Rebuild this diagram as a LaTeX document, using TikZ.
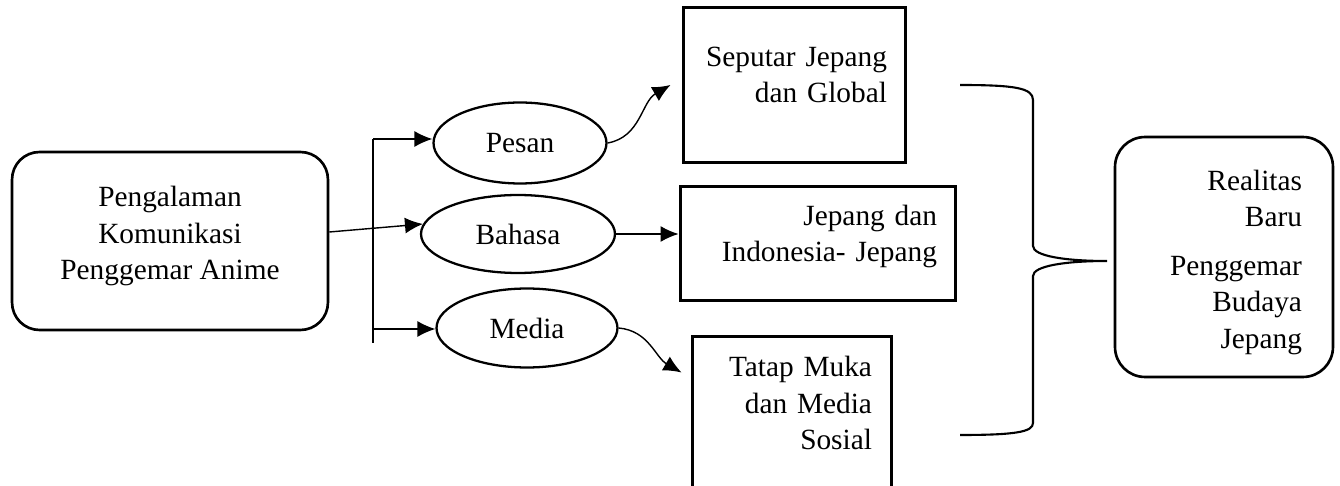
\documentclass[tikz,border=0pt]{standalone}
\usepackage{fontspec}
\setmainfont{Liberation Serif}
\usetikzlibrary{arrows.meta, shapes.geometric}

% depth strut that lifts a node's text a little
\newcommand{\liftby}[1]{\rule[-#1]{0pt}{#1}}

\begin{document}
\begin{tikzpicture}[
    x=0.02cm, y=-0.02cm,
    font=\fontsize{16.7}{20.8}\selectfont,
    box/.style={
        draw, rectangle, rounded corners=0.55cm, line width=1.5pt,
        inner sep=0pt
    },
    rect/.style={
        draw, rectangle, line width=1.7pt, align=right, inner ysep=0pt
    },
    oval/.style={
        draw, ellipse, line width=1.3pt, inner sep=0pt
    },
    line/.style={line width=0.8pt},
    arr/.style={-{Latex[length=0.36cm, width=0.32cm]}, line width=0.8pt},
    brace/.style={line width=1.2pt}
]

\useasboundingbox (0,0) rectangle (1340,486);
\clip (0,0) rectangle (1340,486);

%% ---- Nodes at explicit (x,y) positions ----

% Source on the left
\node[box, align=center, minimum width=6.32cm, minimum height=3.56cm]
    at (170,241) (lbox) {Pengalaman\\Komunikasi\\Penggemar Anime\liftby{0.32cm}};

% Three ovals in the middle
\node[oval, minimum width=3.46cm, minimum height=1.62cm] at (520,143) (pesan)  {Pesan};
\node[oval, minimum width=3.88cm, minimum height=1.56cm] at (518,234) (bahasa) {Bahasa};
\node[oval, minimum width=3.62cm, minimum height=1.58cm] at (527,328) (media)  {Media};

% Boxes with right-aligned text
\node[rect, text width=3.70cm, inner xsep=0.38cm, minimum height=3.12cm]
    at (794.5,85) (sbox) {Seputar Jepang\\dan Global\liftby{0.4cm}};
\node[rect, text width=4.76cm, inner xsep=0.38cm, minimum height=2.30cm]
    at (818,243.5) (jbox) {Jepang dan\\Indonesia- Jepang\liftby{0.4cm}};
\node[rect, text width=3.20cm, inner xsep=0.40cm, minimum height=3.08cm]
    at (792,413) (tbox) {Tatap Muka\\dan Media\\Sosial\liftby{0.4cm}};

% Result on the right
\node[box, rounded corners=0.6cm, align=right, text width=3.12cm, inner xsep=0.62cm,
      minimum height=4.8cm]
    at (1224,257) (rbox) {\rule{0pt}{0.62cm}Realitas\\Baru\\[0.24cm]Penggemar\\Budaya\\Jepang};

%% ---- Arrows ----

% branching bar
\coordinate (top) at (373,139);
\coordinate (low) at (373,329);
\coordinate (bot) at (373,343);
\draw[line] (top) -- (bot);
\draw[arr] (top) -- (top -| pesan.west);
\draw[arr] (low) -- (low -| media.west);

% source -> Bahasa
\draw[arr] ([yshift=0.18cm]lbox.east) -- (bahasa.174);

% ovals -> boxes
\draw[arr] (pesan.east) to[out=10, in=210] ([xshift=-0.22cm]sbox.west);
\draw[arr] (bahasa.east) -- (bahasa.east -| jbox.west);
\draw[arr] (media.east) to[out=-5, in=150]
    ([xshift=-0.18cm, yshift=-0.76cm]tbox.north west);

% brace towards the result
\draw[brace] (960,85) .. controls (1015,85) and (1033,88) .. (1033,100)
    -- (1033,246) .. controls (1033,256) and (1065,261) .. (1107,261)
    .. controls (1065,261) and (1033,266) .. (1033,276)
    -- (1033,423) .. controls (1033,432) and (1015,435) .. (960,435);

\end{tikzpicture}
\end{document}
